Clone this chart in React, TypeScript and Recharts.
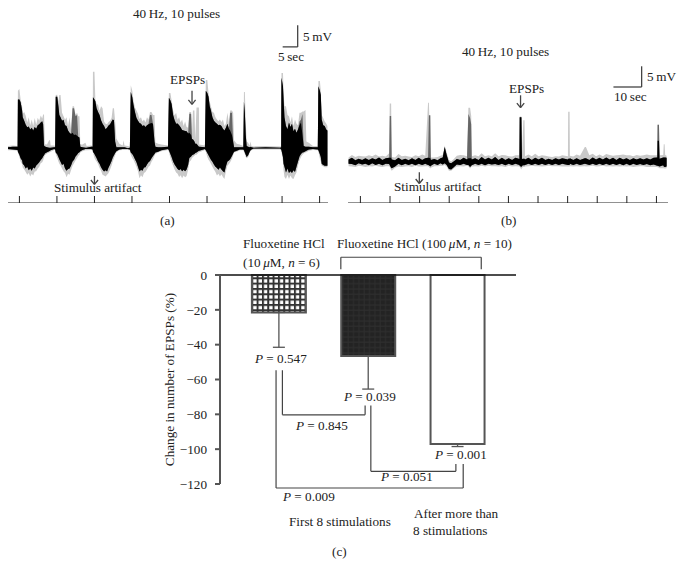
import { Area, Bar, Cell, ComposedChart, ErrorBar, ReferenceLine, XAxis, YAxis } from "recharts";

// rows are [sec, black top, black bottom, grey top, grey bottom, dark spike top?], in mV from rest
type Row = number[];

const restA: Row[] = [[-3.8, 0.2, -0.2, 0.5, -0.5], [-2.2, 0.3, -0.3, 0.6, -0.5]];
const burstA1: Row[] = [
  [-0.6, 0.3, -0.4, 0.5, -0.6], [-0.5, 11, -0.8, 13, -1], [0, 11, -1.5, 13.4, -2], [0.4, 10.4, -2.3, 11, -3],
  [0.9, 8.5, -2.8, 9.5, -3.6], [1.1, 7, -3.5, 7.8, -4.4], [1.6, 6.2, -3.9, 8.2, -4.8], [2.1, 5.3, -4.6, 7.3, -5.4],
  [2.6, 4.7, -4.2, 5.8, -6], [3.1, 4.9, -5, 7, -5.6], [3.6, 4.2, -4.6, 5.2, -6.4], [4.1, 4.6, -5.1, 6.5, -5.8],
  [4.6, 4, -4.4, 5, -6.2], [5.1, 4.8, -4.6, 6.8, -5.3], [5.6, 4.4, -3.9, 5.3, -5.2], [6.1, 5.2, -3.6, 6.9, -4.6],
  [6.6, 5.4, -3.2, 6.2, -4.2], [7.1, 5.8, -2.7, 7.4, -3.4], [7.6, 6.1, -2.3, 6.7, -3.2], [7.9, 5.4, -1.9, 7.6, -2.8],
  [8.2, 0.6, -1.6, 7.6, -2.1], [8.5, 0.4, -1.2, 0.9, -1.6], [9.2, 0.2, -0.9, 0.8, -1.2], [9.9, 0.1, -0.7, 1.8, -1],
  [10.2, 0.1, -0.6, 1.8, -0.9], [10.4, 0.1, -0.5, 0.6, -0.8], [11.6, 0.2, -0.2, 0.6, -0.4],
];
const burstA2: Row[] = [
  [11.9, 0.2, -0.3, 0.5, -0.5], [12.1, 11.6, -1, 12, -1.3], [12.6, 11.6, -1.4, 12.1, -2.2], [13, 9.5, -2, 10.5, -3],
  [13.3, 7.5, -2.5, 12, -3.5], [13.7, 7, -3.1, 12, -3.9], [14.2, 6.2, -3.8, 8, -4.6], [14.7, 6.4, -3.5, 7.2, -5.2],
  [15.2, 5.2, -4.6, 6.4, -5.6], [15.7, 5, -5.1, 7, -6.6], [16.2, 4, -4.7, 5, -5.8], [16.7, 3.5, -4.6, 7, -6],
  [17.2, 3.2, -3.9, 4.2, -5], [17.7, 3.5, -3, 9.5, -4, 9], [18.2, 3, -2.6, 9.5, -3.4, 9], [18.7, 3.1, -1.9, 7.5, -2.8, 7.2],
  [19.2, 2.8, -1.5, 8, -2.2, 7.5], [19.6, 2.6, -1.1, 7.2, -1.8], [20, 2.4, -0.9, 7.2, -1.5], [20.3, 0.3, -0.7, 0.8, -1],
  [21, 0.2, -0.4, 0.8, -0.7], [22, 0.1, -0.2, 1.2, -0.5], [22.4, 0.1, -0.2, 0.5, -0.5], [23.9, 0.3, -0.2, 0.6, -0.4],
];
const burstA3: Row[] = [
  [24.4, 0.3, -0.3, 0.5, -0.5], [24.5, 11.5, -0.8, 17.3, -1], [25, 11, -1.3, 17.3, -2.2], [25.3, 10.6, -1.7, 11, -2.6],
  [25.7, 9, -2.2, 10, -3], [26.2, 8.2, -3, 9.8, -3.6], [26.7, 7.5, -3.5, 8.4, -4.5], [27.2, 6.3, -4.3, 9.5, -5.1],
  [27.7, 5.5, -4.9, 9, -6], [28.2, 5, -5.3, 6, -6.2], [28.7, 4.3, -5, 5.5, -6.4], [29.2, 4.6, -5.3, 5.4, -6],
  [29.7, 5.1, -4.4, 5.9, -5.6], [30.2, 5.4, -3.7, 6.2, -4.8], [30.7, 6, -2.9, 6.8, -3.9], [31.1, 6.5, -2.1, 9, -3],
  [31.5, 6.3, -1.6, 9, -2.3], [31.9, 1.5, -1.1, 6, -1.6], [32.3, 0.2, -0.7, 2.2, -0.9], [33.3, 0.2, -0.3, 1, -0.5],
  [34.4, 0.2, -0.2, 0.6, -0.4], [34.7, 0.2, -0.2, 1.8, -0.4], [35, 0.2, -0.2, 0.6, -0.4], [36.1, 0, -0.2, 0.5, -0.4],
];
const burstA4: Row[] = [
  [36.8, 0.1, -0.3, 0.4, -0.5], [37.1, 12.7, -1, 14.2, -1.5], [37.6, 11.5, -1.3, 13, -2.2], [38, 9.8, -1.8, 10.8, -2.6],
  [38.5, 8.2, -2.5, 9.2, -3.4], [39, 6.8, -3.2, 8.5, -4.2], [39.5, 6.2, -4.2, 7.8, -5.2], [40, 5.7, -5.3, 6.6, -6.8],
  [40.5, 5.5, -4.9, 7, -6.1], [41, 5, -5.1, 6, -6.6], [41.5, 5.2, -4.4, 6.5, -5.6], [42, 4.8, -4.3, 5.8, -5.4],
  [42.5, 5.2, -3.7, 7, -4.8], [43, 5.4, -3.2, 6.4, -4.2], [43.5, 5.6, -2.9, 8.2, -3.9, 7.5], [44, 5.7, -2.3, 8.2, -3.1, 7.5],
  [44.5, 5.5, -1.8, 7.5, -2.5], [45, 1.5, -1.3, 7.5, -1.7], [45.3, 0.3, -1, 1.3, -1.3], [46.2, 0.2, -0.8, 1, -1],
  [47.3, 0.2, -0.5, 0.8, -0.7], [49.5, 0.3, -0.2, 0.6, -0.4],
];
const burstA5: Row[] = [
  [49.8, 11.4, -0.5, 12.5, -0.8], [50.3, 10.8, -1.3, 12.5, -2.2], [50.7, 10, -2, 10.8, -3], [51.2, 7.5, -3, 8.5, -4],
  [51.7, 6.3, -3.7, 7.4, -4.8], [52.2, 5.5, -4.2, 8, -5.5], [52.7, 5.6, -4.7, 6.4, -5.8], [53.2, 5.2, -5, 7, -6.5],
  [53.7, 4.7, -4.7, 5.8, -6.1], [54.2, 4.1, -5.2, 6.5, -6.8], [54.7, 4, -4.9, 5, -6.2], [55.2, 3.9, -5.2, 6, -6.6],
  [55.7, 3.8, -4.8, 4.8, -6.3], [56.2, 3.3, -3.8, 4.6, -4.9], [56.6, 3.5, -2.2, 8.2, -3.2, 7.8], [57.2, 3, -1.9, 8.2, -2.7, 7.8],
  [57.5, 2, -1.6, 3, -2.2], [57.8, 2, -1.5, 8.5, -2], [58.3, 1.5, -1.3, 8.5, -1.7], [58.6, 1, -1.1, 2, -1.5],
  [59, 1, -1, 9.2, -1.5], [59.8, 0.3, -0.6, 9.2, -0.9], [59.9, 0.3, -0.6, 0.8, -0.9], [61.8, 0.2, -0.2, 0.6, -0.4],
];
const burstA6: Row[] = [
  [62.1, 13, -0.5, 15.4, -0.8], [62.6, 12.5, -1.1, 15.4, -2], [63, 11.6, -1.6, 12.5, -2.6], [63.4, 9.5, -2.1, 10.5, -3],
  [63.8, 8.5, -2.6, 9.5, -3.5], [64.3, 7, -3.1, 8.2, -4.2], [64.8, 6.2, -3.7, 8, -4.8], [65.3, 5.8, -4.2, 7, -5.4],
  [65.8, 5.5, -4.5, 6.5, -6.2], [66.3, 5.2, -4.9, 6.1, -5.8], [66.8, 5.3, -4.4, 6.5, -6.4], [67.3, 5, -4.8, 5.9, -5.9],
  [67.8, 4.4, -5.2, 6.5, -6.5], [68.3, 4, -5.5, 5, -7], [68.8, 4.6, -4.1, 5.6, -5.2], [69.3, 5.5, -3, 8, -4],
  [69.8, 4.4, -2.8, 5.5, -3.6], [70.2, 4, -2.5, 8.5, -3.2, 8], [70.8, 3, -1.8, 8.5, -2.4, 8], [71.2, 1.5, -1.2, 8, -1.6],
  [71.5, 0.2, -0.8, 1.8, -1], [72.4, 0.2, -0.6, 1, -0.8], [73.4, 0.2, -0.3, 0.8, -0.5],
];
const spikeA: Row[] = [
  [74.6, 0.2, -0.3, 0.5, -0.5], [74.8, 10.5, -0.5, 12.7, -0.8], [75.1, 8, -1, 12.7, -1.4], [75.4, 3, -1.5, 6, -2],
  [75.7, 0.5, -2, 1.5, -2.3], [76.2, 0.3, -1.6, 1.2, -2], [76.7, 0.2, -0.8, 0.6, -1.1], [77, 0.3, -0.5, 1.5, -0.7],
  [77.3, 0.2, -0.3, 0.5, -0.5], [78, 0.1, -0.1, 0.4, -0.3], [82, 0.2, -0.1, 0.5, -0.3], [86.9, 0.1, -0.1, 0.4, -0.3],
];
const burstA7: Row[] = [
  [87.2, 0.2, -0.3, 0.5, -0.5], [87.3, 15.9, -0.5, 17, -0.8], [87.8, 14, -2, 17, -3], [88, 11, -3.5, 12.5, -5],
  [88.3, 7, -4.2, 9.5, -6.5], [88.8, 5, -5.5, 9.5, -7], [89.3, 4.3, -4.6, 7.5, -6], [89.8, 5.8, -5.6, 7.2, -7],
  [90.3, 4.8, -5.2, 5.8, -6.2], [90.8, 5.5, -5.6, 7.2, -6.8], [91.3, 3.8, -5, 5, -7], [91.8, 4.4, -5.4, 6.5, -6.1],
  [92.3, 3.5, -4.2, 5.5, -5.5], [92.8, 4.2, -3, 5.2, -4], [93.3, 5.2, -1.9, 8, -2.8, 6], [93.8, 5.8, -1.3, 8, -2, 6.4],
  [94.3, 3, -1, 8.3, -1.5, 7.7], [94.7, 0.5, -0.9, 8.3, -1.2], [95.3, 0.3, -0.7, 8.6, -1], [95.6, 0.3, -0.6, 1.5, -0.9],
  [96.4, 0.3, -0.3, 1.2, -0.6], [97.8, 0.2, -0.2, 0.5, -0.4],
];
const burstA8: Row[] = [
  [99.4, 0.2, -0.3, 0.5, -0.5], [99.6, 14, -0.5, 15.2, -0.8], [100.1, 13, -1.4, 15.2, -2.4], [100.4, 12, -2, 13, -3],
  [100.7, 6.5, -3.5, 7.5, -4], [101.2, 5.2, -3.8, 6.8, -4.1], [101.7, 5, -4, 6, -4.3], [102.2, 4.2, -4, 5.6, -4.3],
  [102.6, 4, -4, 5, -4.3],
];

const traceB1: Row[] = [
  [-4.2, 0.5, -0.5, 1, -1.1], [-3, 0.9, -0.6, 1.6, -1.2], [-1.8, 0.3, -0.9, 1.1, -1.3], [-0.6, 0.7, -0.4, 1.4, -1],
  [0.6, 0.4, -0.7, 1.3, -1.1], [1.8, 0.8, -0.5, 1.2, -1.3], [3, 0.4, -0.9, 1.5, -1.1], [4.2, 0.8, -0.4, 1.3, -1.2],
  [5.4, 0.5, -0.8, 1.7, -1], [6.6, 1, -0.5, 1.2, -1.2], [7.8, 0.4, -0.9, 1.4, -1.3], [9, 0.8, -0.5, 1.2, -1.1],
  [10.2, 0.9, -0.6, 2, -1.1], [10.4, 0.9, -0.9, 14, -1.3, 11], [10.9, 0.9, -1.5, 14, -2, 11], [11.1, 0.5, -1.6, 1.1, -2.2],
  [12.3, 0.3, -1.2, 1, -1.5], [13.5, 0.9, -0.5, 1.8, -1.2], [14.7, 0.4, -0.9, 1.3, -1.3], [15.9, 0.7, -0.5, 1.4, -1.2],
  [17.1, 0.3, -0.8, 1.2, -1.1], [18.3, 0.8, -0.5, 1.1, -1.3], [19.5, 0.4, -0.9, 1.5, -1], [20.7, 0.9, -0.5, 1.3, -1.2],
  [21.9, 0.4, -0.8, 1.7, -1.2], [23, 0.8, -0.5, 1.4, -1.1], [24, 0.9, -0.8, 14.2, -1.1], [24.3, 0.9, -0.9, 14.2, -1.3, 11.2],
  [24.8, 0.8, -1.2, 1.4, -1.7, 11.2], [25, 0.4, -1, 1, -1.5], [26.2, 0.6, -0.5, 1, -1.1], [27.4, 0.3, -0.8, 1.1, -1.1],
  [28.4, 0.8, -0.4, 1.4, -1], [29.2, 1, -0.7, 1.6, -1], [29.9, 3.5, -0.4, 3.9, -0.8], [30.6, 1.6, -0.8, 2.2, -1.2],
  [31.4, -0.2, -1.8, 0.4, -2.2], [32.2, -0.4, -1.9, 0, -2.2], [33.2, 0.1, -1.3, 0.7, -1.6], [34.2, 0.6, -0.7, 1.4, -1.2],
  [35.4, 0.4, -0.8, 1.6, -1.1], [36.6, 0.9, -0.5, 1.5, -1.2], [37.8, 0.5, -0.8, 1.3, -1],
];
const traceB2: Row[] = [
  [38.3, 0.8, -0.8, 13, -1.1, 11.5], [38.9, 0.8, -1.3, 13, -1.7, 10.5], [39.3, 0.8, -1, 11, -1.3, 9], [39.5, 0.5, -0.9, 1.3, -1.2],
  [40.7, 0.8, -0.5, 1.5, -1.1], [41.9, 0.4, -0.8, 1.3, -1.2], [43, 1.1, -0.5, 2, -1], [44.2, 0.5, -0.9, 1.3, -1.2],
  [45.4, 0.9, -0.5, 1.5, -1], [46.6, 0.5, -0.7, 1.3, -1.1], [47.8, 1.1, -0.6, 2, -1.1], [49, 0.4, -0.8, 1.3, -1.2],
  [50.2, 0.9, -0.5, 1.6, -1.1], [51.4, 0.4, -0.9, 1.5, -1.3], [52.6, 0.8, -0.5, 1.3, -1], [53.8, 0.4, -0.8, 1.2, -1.2],
  [55, 0.9, -0.5, 1.5, -1.1], [56.4, 0.6, -0.8, 1.5, -1.2], [56.5, 10.7, -1, 10.9, -1.3], [57.1, 10.7, -1.3, 10.9, -1.9],
  [57.3, 0.6, -1, 1.2, -1.5], [57.8, 0.7, -0.9, 10, -1.3], [58.2, 0.7, -0.9, 10, -1.3], [58.4, 0.5, -0.8, 1.3, -1.2],
  [59.6, 0.9, -0.5, 1.7, -1.1], [60.8, 0.4, -0.8, 1.3, -1], [62, 0.9, -0.5, 1.9, -1.1], [63.2, 0.5, -0.8, 1.3, -1.1],
  [64.4, 0.9, -0.5, 1.5, -1.2], [65.6, 0.4, -0.8, 1.4, -1.1], [66.8, 0.7, -0.5, 1.2, -1], [68, 0.4, -0.8, 1.1, -1.1],
  [69.2, 0.8, -0.5, 1.3, -1.1], [70.4, 0.5, -0.8, 1.2, -1.1], [71.6, 0.8, -0.5, 1.5, -1.2], [73.6, 0.5, -0.8, 1.3, -1.2],
  [73.7, 0.7, -0.8, 12, -1.2], [74.2, 0.7, -0.8, 12, -1.2], [74.3, 0.8, -0.5, 1.4, -1.1],
];
const traceB3: Row[] = [
  [75.5, 0.4, -0.8, 1.2, -1.2], [76.7, 0.8, -0.5, 1.7, -1.1], [77.9, 0.4, -0.8, 1.4, -1.2], [79.6, 0.8, -0.5, 3.5, -1.1],
  [80, 0.8, -0.6, 3.5, -1.2], [81.2, 0.4, -0.8, 1.5, -1.1], [82.4, 1, -0.5, 1.9, -1], [83.6, 0.5, -0.8, 1.3, -1.2],
  [84.8, 0.9, -0.5, 1.7, -1.1], [86, 0.5, -0.8, 1.3, -1], [87.2, 1, -0.5, 1.8, -1.2], [88.4, 0.5, -0.8, 1.6, -1.1],
  [89.6, 0.9, -0.5, 1.4, -1.2], [90.8, 0.4, -0.8, 1.5, -1.1], [92, 0.9, -0.5, 1.6, -1.2], [93.2, 0.5, -0.9, 1.7, -1.1],
  [94.4, 0.8, -0.5, 1.5, -1.2], [95.6, 0.4, -0.9, 1.5, -1.1], [96.8, 0.8, -0.5, 1.3, -1.3], [98, 0.5, -0.8, 1.6, -1.2],
  [99.2, 0.8, -0.6, 1.4, -1.1], [100.4, 0.5, -0.8, 1.5, -1.1], [101.6, 0.8, -0.6, 1.7, -1.3], [102.8, 0.5, -0.9, 1.5, -1.3],
  [104, 0.9, -0.7, 1.5, -1.3], [105.3, 1, -1, 1.5, -1.3], [105.4, 5, -1, 8.9, -1.4, 8.9], [105.9, 5, -1.1, 8.9, -1.5, 8.9],
  [106.1, 0.7, -1.2, 1.5, -1.6], [107.4, 1, -0.9, 1.6, -1.6], [107.6, 1, -1.2, 4.2, -1.6], [107.9, 1, -1.3, 4.2, -1.7],
  [108.1, 1, -1.3, 1.6, -1.7], [108.6, 0.9, -1.2, 1.4, -1.6],
];

const stimTicksA = [0, 12.5, 25, 37.5, 50, 62.5, 75, 87.5, 100];
const stimTicksB = [0, 10.5, 21, 31.5, 42, 52.5, 63, 73.5, 84, 94.5, 105];

const treatments = ["Fluoxetine 10", "Fluoxetine 100 early", "Fluoxetine 100 late"];
const groupPositions = [1, 2, 3];
const changeValues = [-21.5, -46.5, -97];
const changeErrors = [20, 19, 1.5];
const changeTicks = [0, -20, -40, -60, -80, -100, -120];

const toTrace = (rows: Row[]) =>
  rows.map(([t, top, bottom, greyTop, greyBottom, dark]) => ({
    t,
    black: [bottom, top],
    grey: [greyBottom, greyTop],
    dark: [bottom, dark ?? top],
  }));

const dataA = toTrace([
  ...restA, ...burstA1, ...burstA2, ...burstA3, ...burstA4, ...burstA5, ...burstA6, ...spikeA, ...burstA7, ...burstA8,
]);
const dataB = toTrace([...traceB1, ...traceB2, ...traceB3]);
const dataC = treatments.map((name, i) => ({
  name,
  x: groupPositions[i],
  change: changeValues[i],
  err: [changeErrors[i], 0],
}));

type Pt = [number, number];
const arrow = (t: number, top: number, tip: number, dt: number, dm: number): Pt[][] => [
  [[t, top], [t, tip]],
  [[t - dt, tip + dm], [t, tip]],
  [[t + dt, tip + dm], [t, tip]],
];
const overlayA: Pt[][] = [
  [[92.7, 27.8], [92.7, 22.9]],
  [[87.7, 22.9], [92.7, 22.9]],
  ...arrow(57.5, 13, 9.9, 1.2, 1),
  ...arrow(25, -6.3, -8.2, 1.2, 1),
];
const overlayB: Pt[][] = [
  [[99.75, 23], [99.75, 18]],
  [[89.75, 18], [99.75, 18]],
  ...arrow(56.8, 16, 13, 1.3, 1.1),
  ...arrow(20.9, -2.6, -5.3, 1.3, 1.1),
];
const brackets: Pt[][] = [
  [[1.043, -54.7], [1.043, -80.3]], [[1.043, -80.3], [1.969, -80.3]], [[1.969, -80.3], [1.969, -74.9]],
  [[2.033, -74.9], [2.033, -112.7]], [[2.033, -112.7], [2.985, -112.7]], [[2.985, -112.7], [2.985, -108.5]],
  [[0.972, -54.7], [0.972, -122.3]], [[0.972, -122.3], [3.067, -122.3]], [[3.067, -122.3], [3.067, -108.5]],
  [[1.697, 3.3], [1.697, 10.2]], [[1.697, 10.2], [3.269, 10.2]], [[3.269, 10.2], [3.269, 3.3]],
];

const serif = "'Liberation Serif', serif";
const ink = "#222";
const textSize = 13.2;

const segments = (lines: Pt[][], stroke: string, width: number) =>
  lines.map((line, i) => (
    <ReferenceLine
      key={i}
      segment={line.map(([x, y]) => ({ x, y }))}
      stroke={stroke}
      strokeWidth={width}
      ifOverflow="visible"
    />
  ));

const Note = ({ x, y, children }: { x: number; y: number; children: React.ReactNode }) => (
  <div
    style={{
      position: "absolute", left: x, top: y - 8, height: 16, lineHeight: "16px", whiteSpace: "nowrap",
      fontFamily: serif, fontSize: textSize, color: ink,
    }}
  >
    {children}
  </div>
);
const P = ({ x, y, value }: { x: number; y: number; value: string }) => (
  <Note x={x} y={y}><i>P</i> = {value}</Note>
);

const Trace = ({ data, domainX, domainY, ticks, lines, left, width }: any) => (
  <div style={{ position: "absolute", left, top: 0 }}>
    <ComposedChart width={width} height={203} data={data} margin={{ top: 0, right: 0, bottom: 0, left: 0 }}>
      <XAxis
        type="number" dataKey="t" domain={domainX} ticks={ticks} height={1} mirror interval={0}
        tickFormatter={() => ""} tickSize={7} stroke={ink} allowDataOverflow
      />
      <YAxis type="number" domain={domainY} hide allowDataOverflow />
      <Area dataKey="grey" stroke="none" fill="#c9c9c9" fillOpacity={1} dot={false} activeDot={false} isAnimationActive={false} />
      <Area dataKey="dark" stroke="none" fill="#666" fillOpacity={1} dot={false} activeDot={false} isAnimationActive={false} />
      <Area dataKey="black" stroke="none" fill="#000" fillOpacity={1} dot={false} activeDot={false} isAnimationActive={false} />
      {segments(lines, "#444", 1.3)}
    </ComposedChart>
  </div>
);

export default function App() {
  return (
    <div style={{ position: "absolute", left: 0, top: 0, width: 682, height: 566, background: "#fff", overflow: "hidden" }}>
      <Trace data={dataA} domainX={[-3.8, 102.8]} domainY={[-12.4, 33.5]} ticks={stimTicksA} lines={overlayA} left={8} width={320} />
      <Trace data={dataB} domainX={[-4.4, 109.1]} domainY={[-10, 39]} ticks={stimTicksB} lines={overlayB} left={348} width={320} />

      <div style={{ position: "absolute", left: 150, top: 240 }}>
        <ComposedChart width={366} height={274} data={dataC} margin={{ top: 34, right: 0, bottom: 30, left: 0 }}>
          <defs>
            <pattern id="hatch" width="5.33" height="5.33" patternUnits="userSpaceOnUse">
              <rect width="5.33" height="5.33" fill="#fff" />
              <path d="M0 1H5.33M1 0V5.33" stroke="#333" strokeWidth="2" />
            </pattern>
            <pattern id="dense" width="5.33" height="5.33" patternUnits="userSpaceOnUse">
              <rect width="5.33" height="5.33" fill="#232323" />
              <path d="M0 1H5.33M1 0V5.33" stroke="#2e2e2e" strokeWidth="1" />
            </pattern>
          </defs>
          <XAxis type="number" dataKey="x" orientation="top" domain={[0.3445, 3.658]} height={1} tick={false} tickLine={false} stroke="#111" strokeWidth={1.5} allowDataOverflow />
          <YAxis
            type="number" domain={[-120, 0]} ticks={changeTicks} width={70} tickSize={5} tickMargin={8} interval={0}
            stroke="#555" strokeWidth={2}
            tick={{ fontFamily: serif, fontSize: textSize, fill: ink, stroke: "none" }}
            tickFormatter={(v: number) => String(v).replace("-", "\u2212")}
            label={{ value: "Change in number of EPSPs (%)", angle: -90, position: "insideLeft", dx: 14.5, dy: 0, textAnchor: "middle", fontFamily: serif, fontSize: textSize, fill: ink, stroke: "none" }}
          />
          <Bar dataKey="change" barSize={54} stroke="#555" strokeWidth={2} isAnimationActive={false}>
            <Cell fill="url(#hatch)" />
            <Cell fill="url(#dense)" />
            <Cell fill="#fff" />
            <ErrorBar dataKey="err" direction="y" width={6} stroke="#555" strokeWidth={1.3} isAnimationActive={false} />
          </Bar>
          <ReferenceLine segment={[{ x: 0.3445, y: 0 }, { x: 0.3445, y: -120 }]} stroke="#555" strokeWidth={2} ifOverflow="visible" />
          {segments(brackets, "#444", 1.2)}
        </ComposedChart>
      </div>

      <Note x={133} y={14}>40{"\u2009"}Hz, 10 pulses</Note>
      <Note x={303} y={37}>5{"\u2009"}mV</Note>
      <Note x={278} y={57}>5{"\u2009"}sec</Note>
      <Note x={170} y={80}>EPSPs</Note>
      <Note x={54} y={188}>Stimulus artifact</Note>
      <Note x={160} y={221}>(a)</Note>

      <Note x={462} y={52}>40{"\u2009"}Hz, 10 pulses</Note>
      <Note x={647} y={77}>5{"\u2009"}mV</Note>
      <Note x={614} y={97}>10{"\u2009"}sec</Note>
      <Note x={509} y={89}>EPSPs</Note>
      <Note x={394} y={187}>Stimulus artifact</Note>
      <Note x={501} y={221}>(b)</Note>

      <Note x={243} y={244}>Fluoxetine HCl</Note>
      <Note x={243} y={263}>(10{"\u2009"}<i>μ</i>M, <i>n</i> = 6)</Note>
      <Note x={337} y={244}>Fluoxetine HCl (100{"\u2009"}<i>μ</i>M, <i>n</i> = 10)</Note>
      <P x={255} y={359} value="0.547" />
      <P x={344} y={397} value="0.039" />
      <P x={296} y={426} value="0.845" />
      <P x={435} y={455} value="0.001" />
      <P x={381} y={477} value="0.051" />
      <P x={283} y={497} value="0.009" />
      <Note x={289} y={522}>First 8 stimulations</Note>
      <Note x={414} y={514}>After more than</Note>
      <Note x={413} y={531}>8 stimulations</Note>
      <Note x={332} y={552}>(c)</Note>
    </div>
  );
}
